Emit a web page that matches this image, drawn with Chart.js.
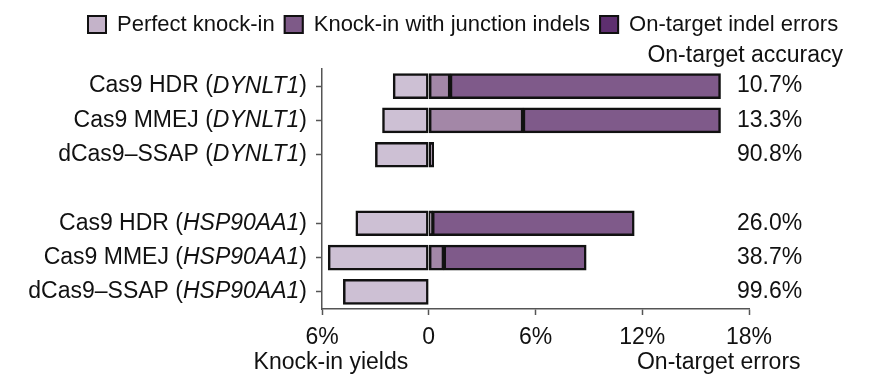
<!DOCTYPE html>
<html>
<head>
<meta charset="utf-8">
<script src="https://cdn.jsdelivr.net/npm/chart.js@4.4.1/dist/chart.umd.min.js"></script>
<style>
  html, body { margin: 0; padding: 0; background: #fff; }
  #wrap { width: 870px; height: 380px; }
</style>
</head>
<body>
<div id="wrap"><canvas id="chart"></canvas></div>
<script>
// rows (index 3 is the empty gap between the two genes)
const methods = ["Cas9 HDR", "Cas9 MMEJ", "dCas9–SSAP", "", "Cas9 HDR", "Cas9 MMEJ", "dCas9–SSAP"];
const genes = ["DYNLT1", "DYNLT1", "DYNLT1", "", "HSP90AA1", "HSP90AA1", "HSP90AA1"];
const perfectKnockIn = [2.0, 2.6, 3.0, null, 4.1, 5.65, 4.8];
const junctionIndels = [1.2, 5.3, 0.28, null, 0.2, 0.85, null];
const indelErrors = [15.2, 11.1, null, null, 11.35, 8.0, null];
const accuracy = ["10.7%", "13.3%", "90.8%", "", "26.0%", "38.7%", "99.6%"];
const xTicks = [-6, 0, 6, 12, 18];
const seriesNames = ["Perfect knock-in", "Knock-in with junction indels", "On-target indel errors"];

const barColors = ["#cdc0d4", "#a387a7", "#7f5a8a"];
const legendColors = ["#c4b3c9", "#7e5a88", "#5e2f6f"];
const FONT = '"Liberation Sans", Arial, Helvetica, sans-serif';

Chart.defaults.font.family = FONT;
Chart.defaults.color = "#111";

function barSet(label, data, color) {
  return {
    label,
    data,
    backgroundColor: color,
    borderColor: "#111",
    borderWidth: 2.5,
    borderSkipped: false,
    barThickness: 25
  };
}

// legend, row labels, accuracy column and axis captions
const textPlugin = {
  id: "texts",
  afterDraw(chart) {
    const { ctx, scales: { x, y } } = chart;
    ctx.save();
    ctx.fillStyle = "#111";
    ctx.textBaseline = "middle";

    // legend
    ctx.font = `22px ${FONT}`;
    let lx = 87;
    seriesNames.forEach((name, i) => {
      ctx.fillStyle = legendColors[i];
      ctx.fillRect(lx, 15, 20, 19);
      ctx.strokeStyle = "#111";
      ctx.lineWidth = 2;
      ctx.strokeRect(lx + 1, 16, 18, 17);
      ctx.fillStyle = "#111";
      ctx.textAlign = "left";
      ctx.fillText(name, lx + 30, 24.5);
      lx += 30 + ctx.measureText(name).width + 9;
    });

    // row labels with italic gene names
    methods.forEach((m, i) => {
      if (!m) return;
      const py = y.getPixelForValue(i);
      const parts = [[m + " (", false], [genes[i], true], [")", false]];
      let total = 0;
      parts.forEach(p => {
        ctx.font = `${p[1] ? "italic " : ""}23px ${FONT}`;
        total += ctx.measureText(p[0]).width;
      });
      let px = 307 - total;
      ctx.textAlign = "left";
      parts.forEach(p => {
        ctx.font = `${p[1] ? "italic " : ""}23px ${FONT}`;
        ctx.fillText(p[0], px, py);
        px += ctx.measureText(p[0]).width;
      });
    });

    // accuracy column
    ctx.font = `23px ${FONT}`;
    ctx.textAlign = "right";
    ctx.fillText("On-target accuracy", 843, 56);
    ctx.textAlign = "left";
    accuracy.forEach((a, i) => {
      if (a) ctx.fillText(a, 737, y.getPixelForValue(i));
    });

    // axis captions
    ctx.textAlign = "center";
    ctx.fillText("Knock-in yields", x.getPixelForValue(-5.5), 363);
    ctx.fillText("On-target errors", x.getPixelForValue(16.3), 363);
    ctx.restore();
  }
};

new Chart(document.getElementById("chart"), {
  type: "bar",
  data: {
    labels: methods.map((m, i) => m ? `${m} (${genes[i]})` : ""),
    datasets: [
      barSet(seriesNames[0], perfectKnockIn.map(v => v == null ? null : -v), barColors[0]),
      barSet(seriesNames[1], junctionIndels, barColors[1]),
      barSet(seriesNames[2], indelErrors, barColors[2])
    ]
  },
  options: {
    indexAxis: "y",
    responsive: true,
    maintainAspectRatio: false,
    animation: false,
    layout: { padding: { top: 69, right: 121, bottom: 0, left: 0 } },
    plugins: {
      legend: { display: false },
      tooltip: { enabled: false }
    },
    scales: {
      x: {
        stacked: true,
        min: -6,
        max: 18,
        afterBuildTicks: s => { s.ticks = xTicks.map(v => ({ value: v })); },
        afterFit: s => { s.height = 71; },
        ticks: {
          font: { size: 23 },
          color: "#111",
          padding: 9,
          callback: v => v === 0 ? "0" : Math.abs(v) + "%"
        },
        grid: { drawOnChartArea: false, tickLength: 6, tickColor: "#555", tickWidth: 1.5 },
        border: { color: "#555", width: 1.5 }
      },
      y: {
        stacked: true,
        afterFit: s => { s.width = 322; },
        ticks: { display: false },
        grid: {
          offset: false,
          drawOnChartArea: false,
          tickLength: 6,
          tickWidth: 1.5,
          tickColor: c => c.index === 3 ? "rgba(0,0,0,0)" : "#555"
        },
        border: { color: "#555", width: 1.5 }
      }
    }
  },
  plugins: [textPlugin]
});
</script>
</body>
</html>
